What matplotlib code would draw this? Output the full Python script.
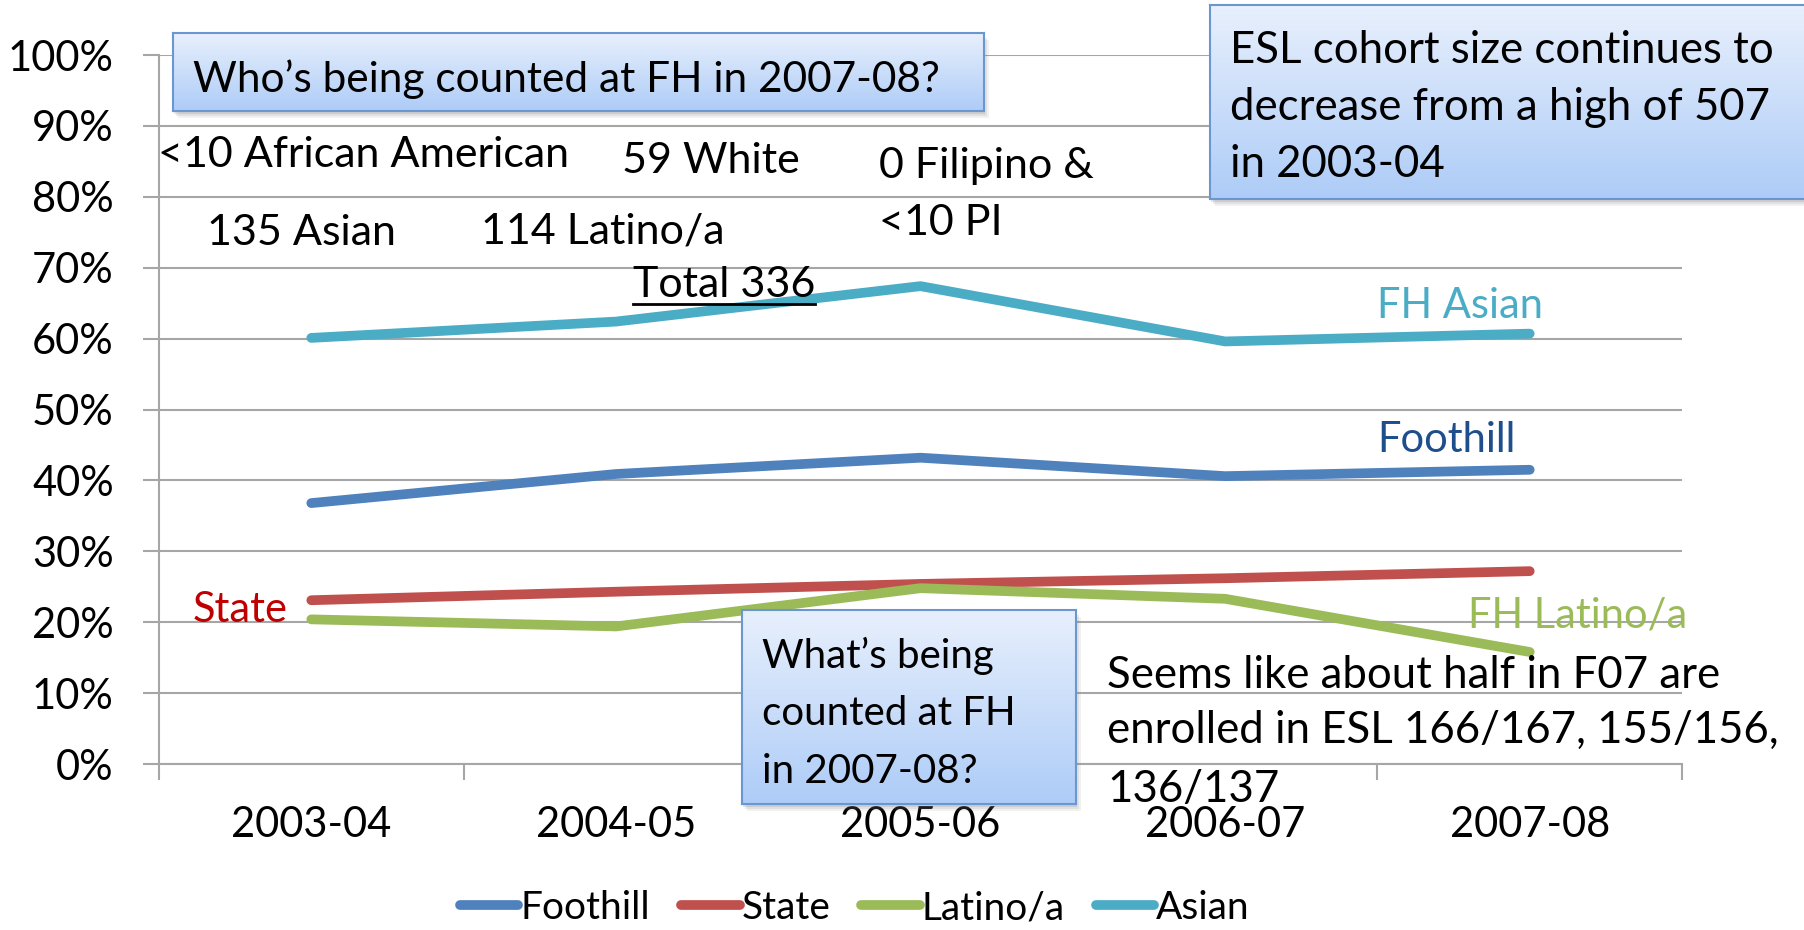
import numpy as np
import matplotlib.pyplot as plt
from matplotlib.patches import Rectangle

# figure size in pixels (dpi 100)
W, H = 1804, 930

years = ['2003-04', '2004-05', '2005-06', '2006-07', '2007-08']
foothill = [36.8, 40.9, 43.2, 40.6, 41.5]
state = [23.1, 24.3, 25.4, 26.2, 27.2]
latino = [20.4, 19.4, 24.8, 23.3, 15.8]
asian = [60.1, 62.4, 67.4, 59.6, 60.7]

series_names = ['Foothill', 'State', 'Latino/a', 'Asian']
series_vals = [foothill, state, latino, asian]
colors = ['#4F81BD', '#C0504D', '#9BBB59', '#4BACC6']
y_ticks = list(range(0, 101, 10))

FONT = 'Lato'
FS = 30       # ticks, series labels, box text
FS_NOTE = 31  # cohort breakdown
FS_BIG = 31.5 # long notes
GRID = '#A6A6A6'

plt.rcParams['font.family'] = [FONT, 'DejaVu Sans']


def fx(x):
    return x / W


def fy(y):
    return 1 - y / H


fig = plt.figure(figsize=(W / 100, H / 100), dpi=100)
ax = fig.add_axes([fx(159), fy(764), (1682 - 159) / W, (764 - 55) / H])

xs = np.arange(len(years))
lines = []
for name, vals, c in zip(series_names, series_vals, colors):
    ln, = ax.plot(xs, vals, color=c, lw=7, solid_capstyle='round',
                  solid_joinstyle='round', label=name, zorder=3)
    lines.append(ln)

ax.set_xlim(-0.5, len(years) - 0.5)
ax.set_ylim(0, 100)
ax.set_yticks(y_ticks)
ax.set_yticklabels([f'{v}%' for v in y_ticks], fontsize=FS)
ax.yaxis.grid(True, color=GRID, lw=1.5)
ax.set_axisbelow(True)
ax.tick_params(axis='y', length=11.5, width=1.5, color=GRID, pad=21)

# category boundaries as major ticks, labels on minor ticks
ax.set_xticks(np.arange(-0.5, len(years), 1.0))
ax.set_xticklabels([])
ax.set_xticks(xs, minor=True)
ax.set_xticklabels(years, minor=True, fontsize=FS)
ax.tick_params(axis='x', which='major', length=11.5, width=1.5, color=GRID)
ax.tick_params(axis='x', which='minor', length=0, pad=30)

for s in ['top', 'right']:
    ax.spines[s].set_visible(False)
for s in ['left', 'bottom']:
    ax.spines[s].set_color(GRID)
    ax.spines[s].set_linewidth(1.5)


def draw_box(x0, y0, x1, y1):
    # soft shadow then gradient-filled box
    for k, a in [(7, 0.10), (5, 0.15), (3, 0.2)]:
        fig.patches.append(Rectangle((fx(x0 + k - 2), fy(y1 + k)), (x1 - x0) / W, (y1 - y0) / H,
                                     transform=fig.transFigure, color='#7F7F7F',
                                     alpha=a, lw=0, zorder=1.5))
    bx = fig.add_axes([fx(x0), fy(y1), (x1 - x0) / W, (y1 - y0) / H], zorder=2)
    grad = np.linspace(0, 1, 256).reshape(-1, 1)
    top = np.array([0.91, 0.94, 0.99])
    bot = np.array([0.68, 0.80, 0.97])
    img = top + grad[..., None] * (bot - top)
    bx.imshow(img, aspect='auto', extent=[0, 1, 0, 1])
    bx.set_xticks([])
    bx.set_yticks([])
    for sp in bx.spines.values():
        sp.set_color('#6A97D0')
        sp.set_linewidth(1.5)


draw_box(173, 33, 984, 111)
draw_box(1210, 5, 1830, 199)
draw_box(742, 610, 1076, 804)

fig.text(fx(193), fy(92), 'Who\u2019s being counted at FH in 2007-08?', fontsize=30.5, zorder=5)
for txt, yb in zip(['ESL cohort size continues to', 'decrease from a high of 507', 'in 2003-04'],
                   [63, 120, 177]):
    fig.text(fx(1230), fy(yb), txt, fontsize=FS_BIG, zorder=5)
for txt, yb in zip(['What\u2019s being', 'counted at FH', 'in 2007-08?'], [668, 725, 783]):
    fig.text(fx(762), fy(yb), txt, fontsize=29, zorder=5)

# cohort breakdown notes
notes = [('<10 African American', 158, 167), ('59 White', 622, 173),
         ('0 Filipino &', 879, 178), ('<10 PI', 879, 235),
         ('135 Asian', 207, 245), ('114 Latino/a', 481, 243)]
for txt, x, yb in notes:
    fig.text(fx(x), fy(yb), txt, fontsize=FS_NOTE, zorder=5)
tot = fig.text(fx(633), fy(297), 'Total 336', fontsize=FS_NOTE, zorder=5)

for txt, yb in zip(['Seems like about half in F07 are', 'enrolled in ESL 166/167, 155/156,',
                    '136/137'], [688, 743, 802]):
    fig.text(fx(1107), fy(yb), txt, fontsize=FS_BIG, zorder=5)

# series labels
fig.text(fx(1377), fy(318), 'FH Asian', fontsize=FS, color='#4BACC6', zorder=5)
fig.text(fx(1377), fy(452), 'Foothill', fontsize=FS, color='#1F4E8C', zorder=5)
fig.text(fx(193), fy(622), 'State', fontsize=FS, color='#C00000', zorder=5)
fig.text(fx(1468), fy(627), 'FH Latino/a', fontsize=FS, color='#9BBB59', zorder=5)

# underline under the total
r = fig.canvas.get_renderer()
bb = tot.get_window_extent(r)
fig.add_artist(plt.Line2D([bb.x0 / W, bb.x1 / W], [fy(304), fy(304)],
                          transform=fig.transFigure, color='black', lw=2, zorder=5))

fig.legend(handles=lines, labels=series_names, loc='center',
           bbox_to_anchor=(fx(855), fy(908)), ncol=4, frameon=False, fontsize=28,
           handlelength=1.5, handletextpad=0.05, columnspacing=0.8,
           borderaxespad=0, borderpad=0)

fig.savefig('out.png', dpi=100)
